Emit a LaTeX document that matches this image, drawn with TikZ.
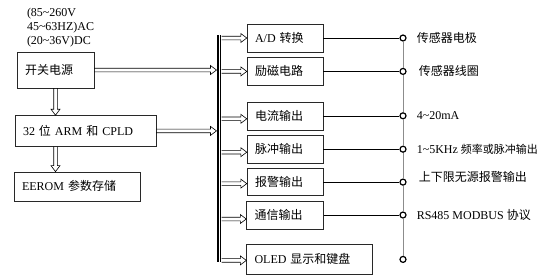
\documentclass[tikz,border=0pt]{standalone}
\usepackage{fontspec}
\setmainfont{Liberation Serif}
\newfontfamily\cjk{Noto Sans CJK SC}
\newcommand{\zh}[1]{{\cjk #1}}
\newcommand{\tld}{\textasciitilde}
\newcommand{\ftn}{\fontsize{12}{14}\selectfont}
\usepackage{tikz}
\usetikzlibrary{arrows.meta, positioning, calc}
\usepackage{xcolor}
\definecolor{BoxLine}{RGB}{40,40,40}
\definecolor{BusGray}{RGB}{140,140,140}
\tikzset{
  basebox/.style={rectangle,draw=BoxLine,align=left,font=\ftn,
    inner xsep=8pt,inner ysep=0pt,minimum height=28pt},
  outbox/.style={basebox,text width=60pt},
  hollowarrow/.style={line width=0.6pt,line join=miter,to path={
    ($(\tikztostart)!1.8pt!90:(\tikztotarget)$)
    -- ($(\tikztotarget)!6pt!(\tikztostart)!1.8pt!-90:(\tikztostart)$)
    -- ($(\tikztotarget)!6pt!(\tikztostart)!4.5pt!-90:(\tikztostart)$)
    -- (\tikztotarget)
    -- ($(\tikztotarget)!6pt!(\tikztostart)!4.5pt!90:(\tikztostart)$)
    -- ($(\tikztotarget)!6pt!(\tikztostart)!1.8pt!90:(\tikztostart)$)
    -- ($(\tikztostart)!1.8pt!-90:(\tikztotarget)$)}},
  busline/.style={double=white,double distance=0.8pt,line width=2pt},
  term/.style={circle,draw,line width=1.2pt,fill=white,inner sep=0pt,minimum size=6pt},
  lbl/.style={font=\ftn,inner sep=0pt,anchor=west}
}
\begin{document}
\begin{tikzpicture}[x=1pt,y=-1pt,node distance=5pt]
  \useasboundingbox (0,0) rectangle (556,274);
  % left column
  \node[basebox,text width=61pt,minimum height=36pt] (pwr) at (55.5,70) {\zh{开关电源}};
  \node[basebox,text width=125pt,minimum height=31pt,below right=27pt and -2pt of pwr.south west] (arm)
    {32 \zh{位} ARM \zh{和} CPLD};
  \node[basebox,text width=110pt,minimum height=29pt,below right=25pt and -1pt of arm.south west] (eerom)
    {EEROM \zh{参数存储}};
  \node[font=\ftn,align=left,inner sep=0pt,above right=5pt and 10pt of pwr.north west] (supply)
    {(85\tld260V\\45\tld63HZ)AC\\(20\tld36V)DC};
  % output column
  \node[outbox] (ad) at (285,38) {A/D \zh{转换}};
  \node[outbox,below=of ad] (lc) {\zh{励磁电路}};
  \node[outbox,below=16pt of lc] (dl) {\zh{电流输出}};
  \node[outbox,below=of dl] (mc) {\zh{脉冲输出}};
  \node[outbox,below=of mc,minimum height=27pt] (bj) {\zh{报警输出}};
  \node[outbox,below=of bj,text width=61pt] (tx) {\zh{通信输出}};
  \node[basebox,text width=110pt,minimum height=30pt,below right=15pt and 0pt of tx.south west] (oled)
    {OLED \zh{显示和键盘}};
  % bus bar
  \coordinate (busT) at (219,35);
  \coordinate (busB) at (219,262);
  \coordinate (busL) at (216.5,35);
  \coordinate (busR) at (221.5,35);
  \draw[busline] (busT) -- (busB);
  \draw[hollowarrow] (pwr.south) to (pwr.south |- arm.north);
  \draw[hollowarrow] (pwr.south |- arm.south) to (pwr.south |- eerom.north);
  \foreach \a in {pwr,arm}
    \draw[hollowarrow] (\a.east) to (\a.east -| busL);
  \foreach \b/\d in {ad/0,lc/0,dl/-3,mc/-3,bj/-1.5,tx/-4,oled/-1}{
    \coordinate (\b-in) at ([yshift=\d pt]\b.west);
    \draw[hollowarrow] (busR |- \b-in) to (\b-in);
  }
  % terminals
  \coordinate (tcol) at (403,0);
  \foreach \b/\t in {ad/t1,lc/t2,dl/t3,mc/t4,bj/t5,tx/t6,oled/t7}
    \node[term] (\t) at (\b.east -| tcol) {};
  \foreach \a/\t in {t1/t2,t2/t3,t3/t4,t4/t5,t5/t6,t6/t7}
    \draw[BusGray,line width=0.8pt] (\a) -- (\t);
  \foreach \b/\t in {ad/t1,lc/t2,dl/t3,mc/t4,bj/t5,tx/t6}
    \draw[line width=0.6pt] (\b.east) -- (\t);
  \node[lbl,right=10pt of t1] (l1) {\zh{传感器电极}};
  \node[lbl,right=12pt of t2] (l2) {\zh{传感器线圈}};
  \node[lbl,right=10pt of t3] (l3) {4\tld20mA};
  \node[lbl,right=10pt of t4] (l4) {1\tld5KHz {\fontsize{11}{13}\selectfont\zh{频率或脉冲输出}}};
  \node[lbl,right=12pt of t5,yshift=5pt] (l5) {\zh{上下限无源报警输出}};
  \node[lbl,right=10pt of t6] (l6) {RS485 MODBUS \zh{协议}};
\end{tikzpicture}
\end{document}
